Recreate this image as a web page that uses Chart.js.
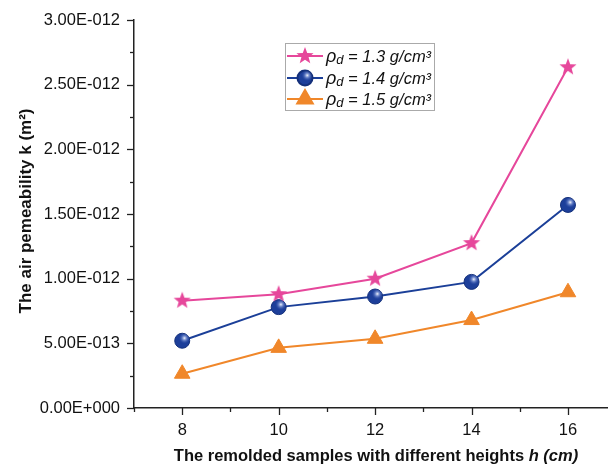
<!DOCTYPE html>
<html>
<head>
<meta charset="utf-8">
<script src="https://cdn.jsdelivr.net/npm/chart.js@4/dist/chart.umd.min.js"></script>
<style>
  body { margin: 0; background: #fff; }
  canvas { display: block; }
</style>
</head>
<body>
<canvas id="chart" width="608" height="468"></canvas>
<script>
// sample heights (cm)
const heights = [8, 10, 12, 14, 16];
// air permeability k (m2) for each dry density
const k_13 = [0.83e-12, 0.88e-12, 1.0e-12, 1.275e-12, 2.635e-12];
const k_14 = [0.52e-12, 0.78e-12, 0.862e-12, 0.975e-12, 1.57e-12];
const k_15 = [0.265e-12, 0.465e-12, 0.535e-12, 0.68e-12, 0.895e-12];
const densities = ['1.3', '1.4', '1.5'];
const xTickValues = [7, 8, 9, 10, 11, 12, 13, 14, 15, 16];
const yMinorStep = 0.25e-12;

const FONT = '"Liberation Sans", Arial, sans-serif';
const PINK = '#e6479b';
const BLUE = '#1b3f98';
const ORANGE = '#f0872a';

// filled five point star for the 1.3 series
function makeStar(color, r) {
  const c = document.createElement('canvas');
  c.width = c.height = r * 2 + 2;
  const g = c.getContext('2d');
  g.beginPath();
  for (let i = 0; i < 10; i++) {
    const rr = i % 2 === 0 ? r : r * 0.42;
    const a = -Math.PI / 2 + i * Math.PI / 5;
    g.lineTo(r + 1 + rr * Math.cos(a), r + 1 + rr * Math.sin(a));
  }
  g.closePath();
  g.fillStyle = color;
  g.fill();
  return c;
}
const star = makeStar(PINK, 9);

function sci(v) {
  if (Math.abs(v) < 1e-20) return '0.00E+000';
  const parts = v.toExponential(2).split('e');
  const n = parseInt(parts[1]);
  return parts[0] + 'E' + (n < 0 ? '-' : '+') + String(Math.abs(n)).padStart(3, '0');
}

// shiny spot on the blue spheres
function sphereSpot(ctx, x, y, r) {
  const g = ctx.createRadialGradient(x + r * 0.3, y - r * 0.35, 0, x + r * 0.3, y - r * 0.35, r * 0.75);
  g.addColorStop(0, 'rgba(255,255,255,0.95)');
  g.addColorStop(0.4, 'rgba(200,215,255,0.45)');
  g.addColorStop(1, 'rgba(60,90,180,0)');
  ctx.save();
  ctx.beginPath();
  ctx.arc(x, y, r, 0, Math.PI * 2);
  ctx.fillStyle = g;
  ctx.fill();
  ctx.restore();
}

function drawParts(ctx, parts, x, y, align) {
  let total = 0;
  parts.forEach(p => { ctx.font = p.font; total += ctx.measureText(p.text).width; });
  let cx = align === 'center' ? x - total / 2 : x;
  parts.forEach(p => {
    ctx.font = p.font;
    ctx.fillText(p.text, cx, y + (p.dy || 0));
    cx += ctx.measureText(p.text).width;
  });
}

const extras = {
  id: 'extras',
  afterDatasetsDraw(chart) {
    const ctx = chart.ctx;
    const meta = chart.getDatasetMeta(1);
    meta.data.forEach(pt => sphereSpot(ctx, pt.x, pt.y, 7.5));
  },
  afterDraw(chart) {
    const ctx = chart.ctx;
    const xs = chart.scales.x, ys = chart.scales.y;
    const area = chart.chartArea;
    ctx.save();
    ctx.strokeStyle = '#222';
    ctx.lineWidth = 1.3;
    // y ticks, long at labelled values
    ys.ticks.forEach(t => {
      const q = Math.round(t.value / yMinorStep);
      const len = q % 2 === 0 ? 7 : 4;
      const py = Math.round(ys.getPixelForValue(q * yMinorStep)) + 0.5;
      ctx.beginPath();
      ctx.moveTo(area.left, py);
      ctx.lineTo(area.left - len, py);
      ctx.stroke();
    });
    // x ticks
    xs.ticks.forEach(t => {
      const len = t.value % 2 === 0 ? 7 : 4;
      const px = Math.round(xs.getPixelForValue(t.value)) + 0.5;
      ctx.beginPath();
      ctx.moveTo(px, area.bottom);
      ctx.lineTo(px, area.bottom + len);
      ctx.stroke();
    });
    // axis titles
    ctx.fillStyle = '#111';
    ctx.textBaseline = 'alphabetic';
    drawParts(ctx, [
      { text: 'The remolded samples with different heights ', font: 'bold 16.5px ' + FONT },
      { text: 'h (cm)', font: 'italic bold 16.5px ' + FONT }
    ], 376, 461, 'center');
    ctx.save();
    ctx.translate(31, 211);
    ctx.rotate(-Math.PI / 2);
    drawParts(ctx, [
      { text: 'The air pemeability k (m²)', font: 'bold 17px ' + FONT }
    ], 0, 0, 'center');
    ctx.restore();

    // legend
    const bx = 285, by = 43, bw = 149, bh = 67;
    ctx.strokeStyle = '#aaa';
    ctx.lineWidth = 1;
    ctx.strokeRect(bx + 0.5, by + 0.5, bw, bh);
    const rowY = [56, 78, 99];
    chart.data.datasets.forEach((ds, i) => {
      const y = rowY[i];
      ctx.strokeStyle = ds.borderColor;
      ctx.lineWidth = 2;
      ctx.beginPath();
      ctx.moveTo(bx + 2, y);
      ctx.lineTo(bx + 38, y);
      ctx.stroke();
      ctx.fillStyle = ds.pointBackgroundColor;
      ctx.strokeStyle = ds.pointBorderColor;
      Chart.helpers.drawPoint(ctx, {
        pointStyle: ds.pointStyle, radius: ds.pointRadius, rotation: 0, borderWidth: ds.pointBorderWidth
      }, bx + 20, y);
      if (i === 1) sphereSpot(ctx, bx + 20, y, 7.5);
      ctx.fillStyle = '#111';
      drawParts(ctx, [
        { text: 'ρ', font: 'italic 18px ' + FONT },
        { text: 'd', font: 'italic 13px ' + FONT, dy: 2 },
        { text: ' = ' + densities[i] + ' g/cm³', font: 'italic 16.5px ' + FONT }
      ], bx + 41, y + 6, 'left');
    });
    ctx.restore();
  }
};

const ctx = document.getElementById('chart').getContext('2d');
const myChart = new Chart(ctx, {
  type: 'line',
  data: {
    datasets: [
      {
        label: 'ρd = 1.3 g/cm3',
        data: heights.map((h, i) => ({ x: h, y: k_13[i] })),
        borderColor: PINK, borderWidth: 2,
        pointStyle: star, pointRadius: 9,
        pointBackgroundColor: PINK, pointBorderColor: PINK, pointBorderWidth: 0
      },
      {
        label: 'ρd = 1.4 g/cm3',
        data: heights.map((h, i) => ({ x: h, y: k_14[i] })),
        borderColor: BLUE, borderWidth: 2,
        pointStyle: 'circle', pointRadius: 7.5,
        pointBackgroundColor: '#1d3f9a', pointBorderColor: '#14307a', pointBorderWidth: 1
      },
      {
        label: 'ρd = 1.5 g/cm3',
        data: heights.map((h, i) => ({ x: h, y: k_15[i] })),
        borderColor: ORANGE, borderWidth: 2,
        pointStyle: 'triangle', pointRadius: 9,
        pointBackgroundColor: ORANGE, pointBorderColor: ORANGE, pointBorderWidth: 1
      }
    ]
  },
  options: {
    responsive: false,
    animation: false,
    devicePixelRatio: 1,
    layout: { autoPadding: false, padding: { top: 20, right: 0, left: 0, bottom: 0 } },
    plugins: { legend: { display: false }, tooltip: { enabled: false } },
    scales: {
      x: {
        type: 'linear',
        min: 7, max: 16.83,
        grid: { display: false, drawTicks: false },
        border: { display: true, color: '#222', width: 1.5 },
        afterBuildTicks: s => { s.ticks = xTickValues.map(v => ({ value: v })); },
        ticks: {
          autoSkip: false, maxRotation: 0, padding: 13,
          color: '#111', font: { family: FONT, size: 16.5 },
          callback: v => (v % 2 === 0) ? String(v) : ''
        },
        afterFit: s => { s.height = 60; s.paddingLeft = 0; s.paddingRight = 0; }
      },
      y: {
        min: 0, max: 3e-12,
        grid: { display: false, drawTicks: false },
        border: { display: true, color: '#222', width: 1.5 },
        ticks: {
          stepSize: yMinorStep, autoSkip: false, padding: 14,
          color: '#111', font: { family: FONT, size: 16.5 },
          callback: v => {
            const q = Math.round(v / yMinorStep);
            return q % 2 === 0 ? sci(q * yMinorStep) : '';
          }
        },
        afterFit: s => { s.width = 134; s.paddingTop = 0; s.paddingBottom = 0; }
      }
    }
  },
  plugins: [extras]
});
</script>
</body>
</html>
